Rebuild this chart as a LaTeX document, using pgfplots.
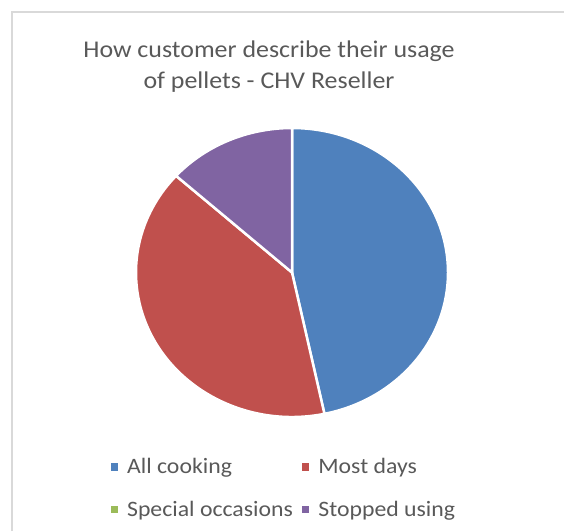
\documentclass[border=0pt]{standalone}
\usepackage{pgfplots}
\pgfplotsset{compat=1.18}
\usepackage{pgfplotstable}
\usepackage{fontspec}
\setmainfont{Carlito}[FakeStretch=1.08]
\definecolor{cBlue}{HTML}{4F81BD}
\definecolor{cRed}{HTML}{C0504D}
\definecolor{cGreen}{HTML}{9BBB59}
\definecolor{cPurple}{HTML}{8064A2}
\definecolor{txt}{HTML}{595959}
\definecolor{frame}{HTML}{D9D9D9}

\pgfplotstableread[col sep=comma]{
label,value
All cooking,7
Most days,6
Special occasions,0
Stopped using,2
}\piedata

\begin{document}
\begin{tikzpicture}
\useasboundingbox (0,0) rectangle (564pt,531pt);
\draw[frame, line width=2pt] (12pt,0) -- (12pt,519pt) -- (564pt,519pt);
\node[anchor=base, text=txt, font=\fontsize{24}{29}\selectfont] at (269pt,473pt) {How customer describe their usage};
\node[anchor=base, text=txt, font=\fontsize{24}{29}\selectfont] at (269pt,442pt) {of pellets - CHV Reseller};

\pgfplotstablegetelem{0}{value}\of\piedata \pgfmathsetmacro\vA{\pgfplotsretval}
\pgfplotstablegetelem{1}{value}\of\piedata \pgfmathsetmacro\vB{\pgfplotsretval}
\pgfplotstablegetelem{2}{value}\of\piedata \pgfmathsetmacro\vC{\pgfplotsretval}
\pgfplotstablegetelem{3}{value}\of\piedata \pgfmathsetmacro\vD{\pgfplotsretval}
\pgfmathsetmacro\tot{\vA+\vB+\vC+\vD}
\pgfmathsetmacro\aS{90}
\pgfmathsetmacro\aA{\aS-360*\vA/\tot}
\pgfmathsetmacro\aB{\aA-360*\vB/\tot}
\pgfmathsetmacro\aC{\aB-360*\vC/\tot}
\pgfmathsetmacro\aD{\aC-360*\vD/\tot}

\begin{axis}[
  at={(292pt,258.5pt)}, anchor=center,
  scale only axis, width=312pt, height=289pt,
  xmin=-1, xmax=1, ymin=-1, ymax=1,
  hide axis, clip=false,
  legend columns=2,
  legend cell align=left,
  legend image code/.code={\fill[#1, draw=none] (0pt,-3.75pt) rectangle (7.5pt,3.75pt);},
  legend style={at={(rel axis cs:-0.082,-0.136)}, anchor=north west, draw=none, fill=none,
    inner sep=0pt, row sep=22pt,
    font=\fontsize{22}{26}\selectfont, text=txt,
    /tikz/every odd column/.append style={column sep=7pt},
    /tikz/every even column/.append style={column sep=7pt}},
]
\fill[cBlue, draw=white, line width=2.5pt] (axis cs:0,0) -- (axis cs:{cos(\aS)},{sin(\aS)}) arc[start angle=\aS, end angle=\aA, x radius=156pt, y radius=144.5pt] -- cycle;
\fill[cRed, draw=white, line width=2.5pt] (axis cs:0,0) -- (axis cs:{cos(\aA)},{sin(\aA)}) arc[start angle=\aA, end angle=\aB, x radius=156pt, y radius=144.5pt] -- cycle;
\fill[cPurple, draw=white, line width=2.5pt] (axis cs:0,0) -- (axis cs:{cos(\aC)},{sin(\aC)}) arc[start angle=\aC, end angle=\aD, x radius=156pt, y radius=144.5pt] -- cycle;
\addlegendimage{fill=cBlue}\addlegendentry{All cooking}
\addlegendimage{fill=cRed}\addlegendentry{Most days}
\addlegendimage{fill=cGreen}\addlegendentry{Special occasions}
\addlegendimage{fill=cPurple}\addlegendentry{Stopped using}
\end{axis}
\end{tikzpicture}
\end{document}
